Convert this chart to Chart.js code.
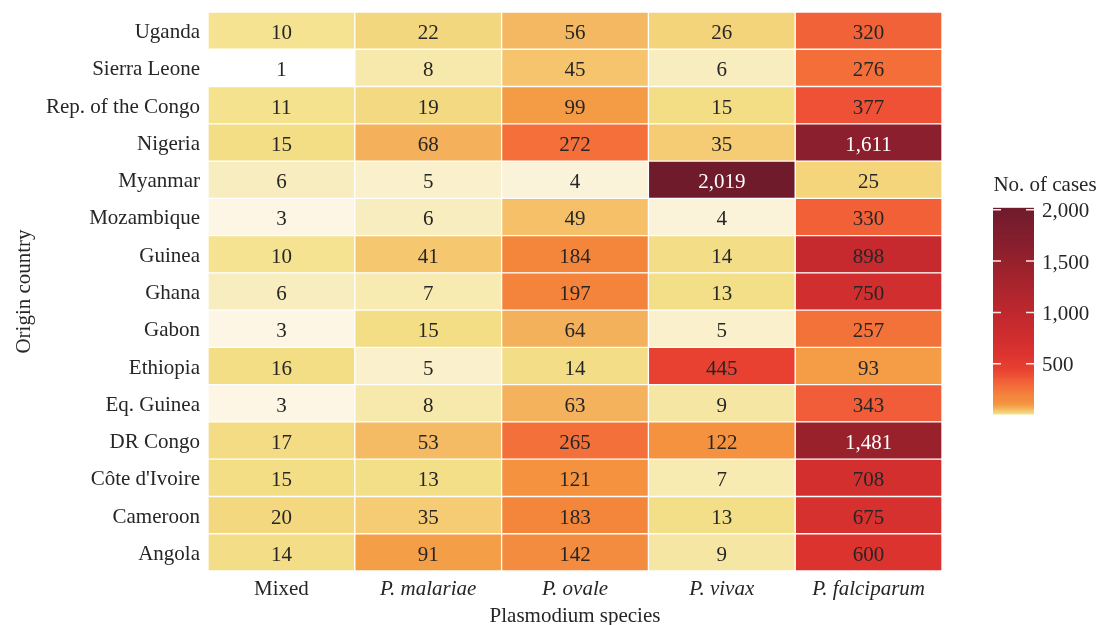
<!DOCTYPE html>
<html>
<head>
<meta charset="utf-8">
<title>Imported malaria cases by origin country and Plasmodium species</title>
<script src="https://cdn.jsdelivr.net/npm/chart.js@4.4.1/dist/chart.umd.min.js"></script>
<style>
  html, body { margin: 0; padding: 0; background: #ffffff; }
  #wrap { position: relative; width: 1097px; height: 625px; overflow: hidden; }
  #heat { position: absolute; left: 0; top: 0; }
  #cbar { position: absolute; left: 993px; top: 160px; }
</style>
</head>
<body>
<div id="wrap">
  <canvas id="heat" width="1097" height="625" style="width:1097px;height:625px"></canvas>
  <canvas id="cbar" width="104" height="270" style="width:104px;height:270px"></canvas>
</div>
<script>
// Rows (top to bottom) and columns of the table
const countries = ['Uganda', 'Sierra Leone', 'Rep. of the Congo', 'Nigeria', 'Myanmar',
  'Mozambique', 'Guinea', 'Ghana', 'Gabon', 'Ethiopia', 'Eq. Guinea', 'DR Congo',
  "Côte d'Ivoire", 'Cameroon', 'Angola'];
const species = ['Mixed', 'P. malariae', 'P. ovale', 'P. vivax', 'P. falciparum'];

// Number of cases per species, in the order of `countries`
const mixed      = [10, 1, 11, 15, 6, 3, 10, 6, 3, 16, 3, 17, 15, 20, 14];
const malariae   = [22, 8, 19, 68, 5, 6, 41, 7, 15, 5, 8, 53, 13, 35, 91];
const ovale      = [56, 45, 99, 272, 4, 49, 184, 197, 64, 14, 63, 265, 121, 183, 142];
const vivax      = [26, 6, 15, 35, 2019, 4, 14, 13, 5, 445, 9, 122, 7, 13, 9];
const falciparum = [320, 276, 377, 1611, 25, 330, 898, 750, 257, 93, 343, 1481, 708, 675, 600];

// Colour bar range and tick labels
const scaleMin = 1;
const scaleMax = 2019;
const colorbarTicks = [500, 1000, 1500, 2000];

const columns = [mixed, malariae, ovale, vivax, falciparum];

// Sequential yellow-orange-red palette: [case count, colour]
const palette = [
  [1, '#ffffff'], [3, '#fdf6e5'], [4, '#fbf2da'], [5, '#faf0cc'], [6, '#f8edbf'],
  [7, '#f8ebb2'], [8, '#f7e9ac'], [9, '#f6e6a4'], [10, '#f5e392'], [13, '#f3df88'],
  [17, '#f3dc84'], [20, '#f3d880'], [25, '#f4d57c'], [35, '#f5cc74'], [45, '#f5c46c'],
  [53, '#f4bb64'], [64, '#f4b15c'], [68, '#f4b05a'], [93, '#f49d46'], [121, '#f4923f'],
  [142, '#f38c3e'], [190, '#f4853c'], [257, '#f3723a'], [272, '#f46f3a'], [320, '#f26238'],
  [343, '#f15d38'], [377, '#ee5136'], [445, '#e84131'], [600, '#dc332f'], [708, '#d32f2f'],
  [898, '#c6292e'], [1481, '#98212c'], [1611, '#8b1f2e'], [2019, '#6f1b2c']
];

const ink = '#262626';
const serif = '"Liberation Serif", "Times New Roman", "DejaVu Serif", serif';
const fontSize = 21;

function hexToRgb(h) {
  const n = parseInt(h.slice(1), 16);
  return [(n >> 16) & 255, (n >> 8) & 255, n & 255];
}

function rgbFor(v) {
  if (v <= palette[0][0]) return hexToRgb(palette[0][1]);
  for (let k = 1; k < palette.length; k++) {
    const [v1, c1] = palette[k];
    if (v <= v1) {
      const [v0, c0] = palette[k - 1];
      const t = (v - v0) / (v1 - v0);
      const a = hexToRgb(c0), b = hexToRgb(c1);
      return a.map((x, i) => Math.round(x + (b[i] - x) * t));
    }
  }
  return hexToRgb(palette[palette.length - 1][1]);
}

function caseColor(v) {
  const [r, g, b] = rgbFor(v);
  return `rgb(${r},${g},${b})`;
}

function luminance(v) {
  const lin = rgbFor(v).map(c => {
    c /= 255;
    return c <= 0.03928 ? c / 12.92 : Math.pow((c + 0.055) / 1.055, 2.4);
  });
  return 0.2126 * lin[0] + 0.7152 * lin[1] + 0.0722 * lin[2];
}

// Each column is a dataset of unit-width stacked segments, coloured by case count
const datasets = columns.map((vals, j) => ({
  label: species[j],
  data: countries.map(() => 1),
  cases: vals,
  backgroundColor: vals.map(caseColor),
  borderColor: '#ffffff',
  borderWidth: 1,
  borderSkipped: false,
  barPercentage: 1,
  categoryPercentage: 1
}));

// Writes the case count in the middle of every cell
const cellLabels = {
  id: 'cellLabels',
  afterDatasetsDraw(chart) {
    const ctx = chart.ctx;
    ctx.save();
    ctx.font = fontSize + 'px ' + serif;
    ctx.textAlign = 'center';
    ctx.textBaseline = 'middle';
    chart.data.datasets.forEach((ds, j) => {
      chart.getDatasetMeta(j).data.forEach((bar, i) => {
        const v = ds.cases[i];
        const p = bar.getCenterPoint();
        ctx.fillStyle = luminance(v) < 0.1 ? '#ffffff' : ink;
        ctx.fillText(v.toLocaleString('en-US'), p.x, p.y + 3);
      });
    });
    ctx.restore();
  }
};

new Chart(document.getElementById('heat'), {
  type: 'bar',
  data: { labels: countries, datasets },
  options: {
    indexAxis: 'y',
    responsive: false,
    animation: false,
    events: [],
    layout: { padding: { top: 12, right: 155, bottom: 0, left: 0 } },
    plugins: { legend: { display: false }, tooltip: { enabled: false } },
    scales: {
      x: {
        type: 'linear',
        stacked: true,
        min: 0,
        max: species.length,
        grid: { display: false, drawTicks: false },
        border: { display: false },
        afterBuildTicks: s => { s.ticks = species.map((_, j) => ({ value: j + 0.5 })); },
        afterFit: s => { s.height = 54; s.paddingLeft = 0; s.paddingRight = 0; },
        ticks: {
          autoSkip: false,
          maxRotation: 0,
          padding: 6,
          color: ink,
          callback: v => species[Math.floor(v)],
          font: c => ({ family: serif, size: fontSize, style: c.index > 0 ? 'italic' : 'normal' })
        },
        title: {
          display: true,
          text: 'Plasmodium species',
          color: ink,
          font: { family: serif, size: fontSize },
          padding: { top: 0, bottom: -4 }
        }
      },
      y: {
        type: 'category',
        stacked: true,
        grid: { display: false, drawTicks: false },
        border: { display: false },
        afterFit: s => { s.width = 208; s.paddingTop = 0; s.paddingBottom = 0; },
        ticks: { padding: 8, labelOffset: 2, color: ink, font: { family: serif, size: fontSize } },
        title: {
          display: true,
          text: 'Origin country',
          color: ink,
          font: { family: serif, size: fontSize },
          padding: { top: 12, bottom: 0 }
        }
      }
    }
  },
  plugins: [cellLabels]
});

// Colour bar: one bar spanning the full range, filled with the palette
function paletteGradient(ctx) {
  const chart = ctx.chart;
  const area = chart.chartArea;
  if (!area) return '#ffffff';
  const g = chart.ctx.createLinearGradient(0, area.bottom, 0, area.top);
  const steps = 200;
  for (let s = 0; s <= steps; s++) {
    const v = scaleMin + (scaleMax - scaleMin) * s / steps;
    g.addColorStop(s / steps, caseColor(v));
  }
  return g;
}

// Short white tick marks on both edges of the colour bar
const colorbarMarks = {
  id: 'colorbarMarks',
  afterDatasetsDraw(chart) {
    const ctx = chart.ctx;
    const area = chart.chartArea;
    const y = chart.scales.y;
    ctx.save();
    ctx.strokeStyle = 'rgba(255,255,255,0.9)';
    ctx.lineWidth = 1.5;
    colorbarTicks.forEach(v => {
      const py = y.getPixelForValue(v);
      ctx.beginPath();
      ctx.moveTo(area.left, py); ctx.lineTo(area.left + 8, py);
      ctx.moveTo(area.right - 8, py); ctx.lineTo(area.right, py);
      ctx.stroke();
    });
    ctx.restore();
  }
};

new Chart(document.getElementById('cbar'), {
  type: 'bar',
  data: {
    labels: [''],
    datasets: [{
      data: [[scaleMin, scaleMax]],
      backgroundColor: paletteGradient,
      borderWidth: 0,
      barPercentage: 1,
      categoryPercentage: 1
    }]
  },
  options: {
    responsive: false,
    animation: false,
    events: [],
    layout: { padding: { top: 0, bottom: 15, left: 0, right: 0 } },
    plugins: {
      legend: { display: false },
      tooltip: { enabled: false },
      title: {
        display: true,
        text: 'No. of cases',
        color: ink,
        font: { family: serif, size: fontSize, weight: 'normal' },
        padding: { top: 12.4, bottom: 10.1 }
      }
    },
    scales: {
      x: { display: false },
      y: {
        position: 'right',
        min: scaleMin,
        max: scaleMax,
        grid: { display: false, drawTicks: false },
        border: { display: false },
        afterBuildTicks: s => { s.ticks = colorbarTicks.map(v => ({ value: v })); },
        afterFit: s => { s.width = 63; s.paddingTop = 0; s.paddingBottom = 0; },
        ticks: {
          padding: 8,
          labelOffset: 2,
          color: ink,
          font: { family: serif, size: fontSize },
          callback: v => v.toLocaleString('en-US')
        }
      }
    }
  },
  plugins: [colorbarMarks]
});
</script>
</body>
</html>
